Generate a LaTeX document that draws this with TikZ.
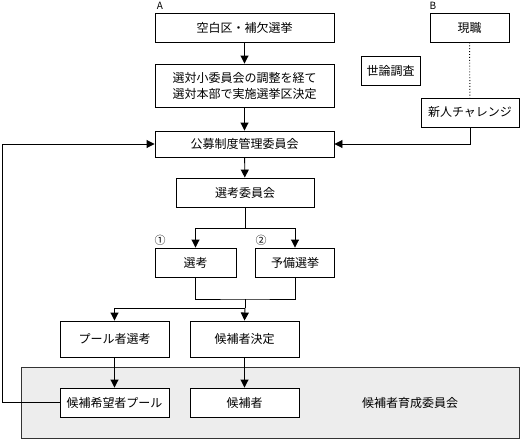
\documentclass[tikz,border=0pt]{standalone}
\usepackage{fontspec}
\setmainfont{Noto Sans CJK JP}
\usepackage{tikz}
\usetikzlibrary{arrows.meta}

\begin{document}
\begin{tikzpicture}[line cap=butt,line join=miter,>={Triangle[length=8pt,width=8pt]},x=1pt,y=-1pt,
  box/.style={draw=black,line width=0.9pt,fill=white,inner sep=0pt,align=center,font=\fontsize{12}{16}\selectfont},
  link/.style={line width=0.9pt}]
\useasboundingbox (0,0) rectangle (520,439);
\draw [line width=0.9pt,draw=black!80,fill=black!7] (21,367) rectangle (519,438);
% A
\draw[color=black] (160,6) node {\fontsize{10}{12}\selectfont A};
\node[box,minimum width=179pt,minimum height=29pt] (kuhaku) at (244.5,27.5) {空白区・補欠選挙};
\node[box,minimum width=179pt,minimum height=43pt] (chousei) at (244.5,85.5) {選対小委員会の調整を経て\\選対本部で実施選挙区決定};
\node[box,minimum width=179pt,minimum height=26pt] (koubo) at (244.5,144) {公募制度管理委員会};
\node[box,minimum width=138pt,minimum height=29pt] (senkoi) at (245,192.5) {選考委員会};
% B
\draw[color=black] (433,6) node {\fontsize{10}{12}\selectfont B};
\node[box,minimum width=79pt,minimum height=29pt] (genshoku) at (469.5,27.5) {現職};
\node[box,minimum width=59pt,minimum height=29pt] (yoron) at (390.5,70.5) {世論調査};
\node[box,minimum width=98pt,minimum height=29pt] (shinjin) at (470,112.5) {新人チャレンジ};
%
\draw[color=black] (160,240) node {\fontsize{11}{12}\selectfont ①};
\draw[color=black] (261,240) node {\fontsize{11}{12}\selectfont ②};
\node[box,minimum width=81pt,minimum height=29pt] (senkou) at (195.5,262.5) {選考};
\node[box,minimum width=79pt,minimum height=29pt] (yobi) at (295,262.5) {予備選挙};
\node[box,minimum width=109pt,minimum height=36pt] (pool) at (114.5,339) {プール者選考};
\node[box,minimum width=109pt,minimum height=36pt] (kettei) at (244.5,339) {候補者決定};
\node[box,minimum width=109pt,minimum height=29pt] (kibou) at (114.5,402.5) {候補希望者プール};
\node[box,minimum width=109pt,minimum height=29pt] (kouho) at (244.5,402.5) {候補者};
\draw[color=black] (410,403) node[font=\fontsize{12}{16}\selectfont] (ikusei) {候補者育成委員会};
\coordinate (split1) at (245,228);
\coordinate (join1) at (245,299);
\coordinate (split2) at (245,308);
\coordinate (back) at (2,144);
\draw [link,->] (kuhaku) -- (chousei);
\draw [link,->] (chousei) -- (koubo);
\draw [link,->] (koubo) -- (senkoi);
\draw [link] (senkoi) -- (split1);
\draw [link,->] (split1) -| (senkou.north);
\draw [link,->] (split1) -| (yobi.north);
\draw [link] (senkou.south) |- (join1) -| (yobi.south);
\draw [link] (join1) -- (split2);
\draw [link,->] (split2) -| (pool.north);
\draw [link,->] (split2) -- (kettei.north);
\draw [link,->] (pool) -- (kibou);
\draw [link,->] (kettei) -- (kouho);
\draw [link,->] (kibou.west) -| (back) -- (koubo.west);
\draw [link,dotted] (genshoku) -- (shinjin);
\draw [link,->] (shinjin.south) |- (koubo.east);
\end{tikzpicture}
\end{document}
